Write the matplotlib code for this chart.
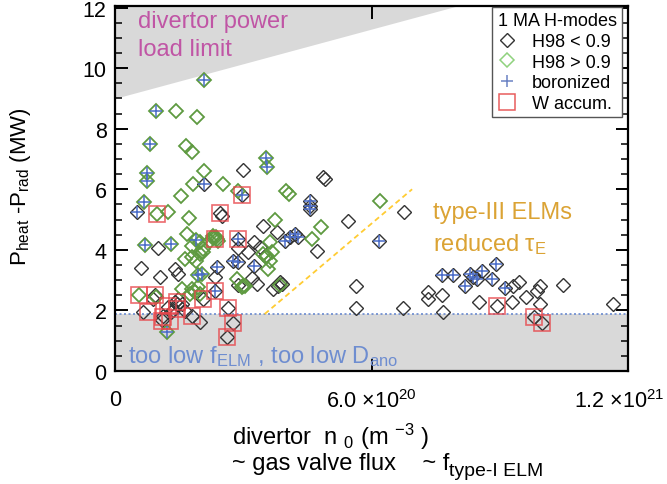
import matplotlib
matplotlib.use("Agg")
import matplotlib.pyplot as plt
import matplotlib.transforms as mtrans
from matplotlib.lines import Line2D
from matplotlib.ticker import MultipleLocator, FixedLocator
import numpy as np

plt.rcParams['font.family'] = ['Liberation Sans', 'DejaVu Sans']
plt.rcParams['mathtext.fontset'] = 'custom'
plt.rcParams['mathtext.rm'] = 'Liberation Sans'
plt.rcParams['mathtext.it'] = 'Liberation Sans'
plt.rcParams['mathtext.default'] = 'regular'

# ---------------- data (x in units of 1e20 m^-3, y in MW) ----------------
low_h98_x = [3.00, 2.09, 2.96, 4.86, 4.92, 4.55, 4.55, 4.55, 6.76, 5.46, 6.18, 4.72,
             4.09, 4.21, 3.98, 4.29, 5.64, 5.64, 6.74, 7.33, 7.33, 7.66, 7.68, 7.66,
             7.91, 8.30, 8.38, 8.46, 8.19, 8.58, 8.91, 8.81, 9.12, 9.32, 9.46, 9.61,
             9.86, 9.94, 9.94, 10.47, 8.52, 8.94, 9.28, 9.81, 9.98, 11.64,
             0.51, 2.46, 2.50, 3.47, 3.78, 1.01, 2.88, 2.88, 3.12, 3.24, 3.39, 3.51,
             2.77, 2.88, 3.24, 0.61, 1.05, 1.40, 1.48, 2.38, 2.34, 2.88, 3.20, 3.31,
             3.70, 3.82, 3.90, 3.86, 0.94, 0.90, 1.48, 1.40, 1.56, 2.07, 1.79, 1.99,
             2.65, 2.77, 2.63, 1.64, 0.66, 1.13, 1.25, 1.44, 1.30, 1.10, 1.35, 2.34]
low_h98_y = [6.64, 6.17, 5.82, 6.39, 6.33, 5.62, 5.46, 5.35, 5.26, 4.94, 4.30, 3.97,
             4.41, 4.52, 4.30, 4.41, 2.80, 2.08, 2.07, 2.62, 2.38, 2.51, 1.94, 3.17,
             3.17, 3.20, 3.09, 3.04, 2.82, 3.31, 3.53, 3.04, 2.73, 2.82, 2.93, 2.45,
             2.65, 2.82, 2.21, 2.85, 2.29, 2.16, 2.29, 1.77, 1.58, 2.21,
             5.26, 5.21, 5.13, 4.80, 4.58, 4.05, 4.36, 4.05, 3.92, 4.25, 4.08, 3.80,
             3.64, 3.61, 3.47, 3.39, 3.11, 3.37, 3.20, 3.42, 3.09, 2.84, 3.06, 2.87,
             2.71, 2.82, 2.87, 2.93, 2.51, 2.38, 2.38, 2.27, 2.21, 2.38, 1.83, 1.61,
             2.07, 1.58, 1.11, 1.99, 1.94, 1.80, 2.10, 2.20, 1.95, 1.70, 2.00, 2.65]

high_h98_x = [2.09, 0.96, 1.43, 1.91, 0.82, 1.66, 1.79, 3.53, 3.56, 2.09, 0.76, 0.76,
              1.83, 2.53, 1.54, 2.88, 4.00, 4.06, 0.68, 1.25, 0.99, 1.74, 3.74, 6.20,
              4.83, 4.60, 0.70, 1.30, 1.89, 1.68, 1.79, 1.99, 2.06, 2.22, 2.30, 2.38,
              2.30, 2.36, 2.40, 3.47, 3.67, 3.63, 1.64, 1.79, 1.89, 1.99, 2.07, 1.95,
              2.03, 2.85, 2.96, 3.04, 3.86, 1.79, 1.87, 1.95, 1.99, 1.75, 0.55, 1.56,
              1.22, 0.97, 3.55, 3.59, 3.63, 3.00]
high_h98_y = [9.61, 8.59, 8.59, 8.37, 7.49, 7.44, 7.22, 7.03, 6.75, 6.61, 6.55, 6.28,
              6.19, 6.17, 5.77, 5.95, 5.95, 5.85, 5.57, 5.24, 5.18, 5.04, 4.99, 5.60,
              4.77, 4.36, 4.16, 4.19, 4.33, 4.52, 4.14, 4.25, 4.03, 4.30, 4.46, 4.36,
              4.40, 4.42, 4.30, 3.86, 3.92, 3.64, 3.70, 3.75, 3.64, 3.86, 3.92, 3.17,
              3.20, 3.04, 2.76, 2.80, 2.84, 2.71, 2.60, 2.76, 2.54, 2.54, 2.51, 2.71,
              1.28, 2.45, 3.80, 3.37, 4.25, 2.82]

boronized_x = [2.09, 0.96, 0.82, 3.53, 3.56, 0.76, 0.76, 0.68, 0.70, 1.30, 1.89, 1.95,
               2.03, 1.22, 2.09, 2.96, 4.55, 4.55, 4.55, 6.18, 4.09, 4.21, 3.98, 4.29,
               7.66, 7.91, 8.30, 8.38, 8.46, 8.19, 8.58, 8.91, 8.81, 9.12, 0.51, 2.88,
               2.77, 2.88, 3.24, 2.38, 2.34]
boronized_y = [9.61, 8.59, 7.49, 7.03, 6.75, 6.55, 6.28, 5.57, 4.16, 4.19, 4.33, 3.17,
               3.20, 1.28, 6.17, 5.82, 5.62, 5.46, 5.35, 4.30, 4.41, 4.52, 4.30, 4.41,
               3.17, 3.17, 3.20, 3.09, 3.04, 2.82, 3.31, 3.53, 3.04, 2.73, 5.26, 4.36,
               3.64, 3.61, 3.47, 3.42, 2.65]

w_accum_x = [2.96, 0.99, 2.46, 2.34, 2.88, 0.55, 0.94, 2.34, 2.07, 0.78, 1.13, 1.25,
             1.44, 1.44, 1.29, 1.09, 1.79, 2.65, 2.77, 2.63, 8.94, 9.81, 9.98]
w_accum_y = [5.82, 5.18, 5.21, 4.36, 4.36, 2.51, 2.51, 2.65, 2.38, 1.94, 1.77, 2.16,
             2.27, 2.05, 1.66, 1.66, 1.83, 2.07, 1.58, 1.11, 2.16, 1.77, 1.58]

x_scale = 1e20
x_ticks = [0, 6.0e20, 1.2e21]
x_tick_labels = ['0', r'6.0 $\times$10$^{20}$', r'1.2 $\times$10$^{21}$']
y_ticks = [0, 2, 4, 6, 8, 10, 12]

# region boundaries
power_limit_start = 9.0          # MW at n0 = 0
power_limit_slope = 3.05 / 8e20  # MW per m^-3
low_felm_limit = 1.88            # MW
type3_line_x = [3.5e20, 6.95e20]
type3_line_y = [1.88, 6.0]

# ---------------- figure ----------------
W, H = 667, 485
fig = plt.figure(figsize=(W / 100, H / 100), dpi=100)
ax = fig.add_axes([115 / W, 1 - 372 / H, (628 - 115) / W, (372 - 7) / H])
ax.set_xlim(0, 1.2e21)
ax.set_ylim(0, 12.05)

gray = '#D9D9D9'
xf = np.array([0, 1.2e21])
ax.fill_between(xf, power_limit_start + power_limit_slope * xf, 20, color=gray, lw=0, zorder=0)
ax.axhspan(0, low_felm_limit, color=gray, lw=0, zorder=0)
ax.axhline(low_felm_limit, color='#6A8ACF', ls=(0, (1.2, 1.5)), lw=1.2, zorder=1)
ax.plot(type3_line_x, type3_line_y, color='#FFCC33', ls=(0, (3, 2)), lw=1.3, zorder=1)

ax.plot(np.array(low_h98_x) * x_scale, low_h98_y, ls='none', marker='D', ms=7.4,
        mfc='none', mec='#333333', mew=1.0, zorder=3)
ax.plot(np.array(high_h98_x) * x_scale, high_h98_y, ls='none', marker='D', ms=7.4,
        mfc='none', mec='#5E9A40', mew=1.3, zorder=3)
ax.plot(np.array(boronized_x) * x_scale, boronized_y, ls='none', marker='+', ms=9,
        mec='#4A6CC8', mew=1.1, zorder=4)
ax.plot(np.array(w_accum_x) * x_scale, w_accum_y, ls='none', marker='s', ms=11.5,
        mfc='none', mec='#E8454A', mew=1.2, alpha=0.8, zorder=5)

# annotations
ax.text(0.54e20, 11.55, 'divertor power', color='#C055A5', fontsize=17, va='center', ha='left')
ax.text(0.54e20, 10.63, 'load limit', color='#C055A5', fontsize=17, va='center', ha='left')
ax.text(7.44e20, 5.25, 'type-III ELMs', color='#DBA334', fontsize=17, va='center', ha='left')
ax.text(7.44e20, 4.20, r'reduced τ$_{E}$', color='#DBA334', fontsize=17, va='center', ha='left')
ax.text(0.30e20, 0.50, r'too low f$_{ELM}$ , too low D$_{ano}$', color='#6E8DD0',
        fontsize=17, va='center', ha='left', zorder=2)

# axes styling
for s in ax.spines.values():
    s.set_linewidth(1.6)
ax.xaxis.set_major_locator(FixedLocator(x_ticks))
ax.set_xticklabels(x_tick_labels)
ax.yaxis.set_major_locator(FixedLocator(y_ticks))
ax.yaxis.set_minor_locator(MultipleLocator(0.5))
ax.tick_params(axis='both', which='major', direction='in', top=True, right=True,
               length=9, width=1.4, labelsize=15.5)
ax.tick_params(axis='y', which='minor', direction='in', right=True, length=5, width=1.1)
ax.tick_params(axis='x', pad=13)
ax.tick_params(axis='y', pad=6)
last = ax.xaxis.get_major_ticks()[2].label1
last.set_transform(last.get_transform() +
                   mtrans.ScaledTranslation(-9 / 100, 0, fig.dpi_scale_trans))

fig.text(21 / W, 1 - 187 / H, r'P$_{heat}$ -P$_{rad}$ (MW)', rotation=90,
         ha='center', va='center', fontsize=16)
fig.text(232 / W, 1 - 437 / H, r'divertor  n $_{0}$ (m $^{-3}$ )', ha='left',
         va='center', fontsize=17)
t2 = fig.text(232 / W, 1 - 464 / H, '~ gas valve flux    ~ f', ha='left',
              va='center', fontsize=17)
ax.annotate('type-I ELM', xy=(1.0, 0.15), xycoords=t2, ha='left', va='center',
            fontsize=14, annotation_clip=False)

# legend
handles = [
    Line2D([], [], ls='none', marker='D', ms=7.4, mfc='none', mec='#333333', mew=1.0),
    Line2D([], [], ls='none', marker='D', ms=7.4, mfc='none', mec='#8FD27D', mew=1.1),
    Line2D([], [], ls='none', marker='+', ms=9, mec='#6B82C4', mew=1.1),
    Line2D([], [], ls='none', marker='s', ms=12, mfc='none', mec='#E85C5C', mew=1.1),
]
labels = ['H98 < 0.9', 'H98 > 0.9', 'boronized', 'W accum.']
leg = ax.legend(handles, labels, title='1 MA H-modes', title_fontsize=13, fontsize=13,
                loc='upper right', bbox_to_anchor=(622 / W, 1 - 8 / H),
                bbox_transform=fig.transFigure, borderaxespad=0, fancybox=False,
                framealpha=1, edgecolor='#555555', alignment='left', handlelength=1.0,
                handletextpad=0.9, borderpad=0.3, labelspacing=0.2)
leg.get_frame().set_linewidth(1.0)
leg.set_zorder(10)

fig.savefig('out.png', dpi=100)
